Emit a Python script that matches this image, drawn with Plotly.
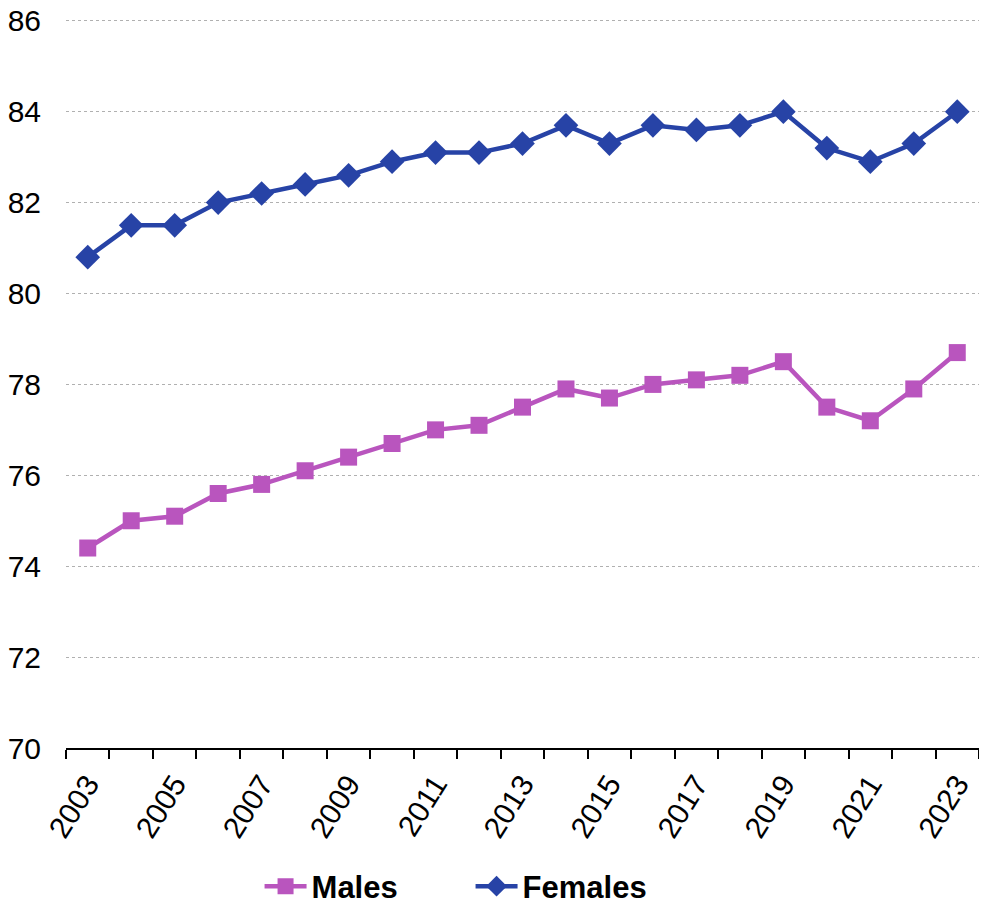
import plotly.graph_objects as go

years = list(range(2003, 2024))
males = [74.4, 75.0, 75.1, 75.6, 75.8, 76.1, 76.4, 76.7, 77.0, 77.1, 77.5,
         77.9, 77.7, 78.0, 78.1, 78.2, 78.5, 77.5, 77.2, 77.9, 78.7]
females = [80.8, 81.5, 81.5, 82.0, 82.2, 82.4, 82.6, 82.9, 83.1, 83.1, 83.3,
           83.7, 83.3, 83.7, 83.6, 83.7, 84.0, 83.2, 82.9, 83.3, 84.0]
tick_years = list(range(2003, 2024, 2))
y_ticks = list(range(70, 87, 2))

male_color = "#B955BE"
female_color = "#2743A6"

fig = go.Figure()
fig.add_trace(go.Scatter(x=years, y=males, name="Males", mode="lines+markers",
                         line=dict(color=male_color, width=4.5),
                         marker=dict(symbol="square", size=17, color=male_color)))
fig.add_trace(go.Scatter(x=years, y=females, name="Females", mode="lines+markers",
                         line=dict(color=female_color, width=4.5),
                         marker=dict(symbol="diamond", size=19, color=female_color)))

FONT = "Liberation Sans, Arial, sans-serif"
fig.update_layout(
    width=971, height=899,
    margin=dict(l=58, r=0, t=11, b=159, autoexpand=False),
    paper_bgcolor="white", plot_bgcolor="white",
    font=dict(family=FONT, color="black", size=30),
    legend=dict(orientation="h", x=0.212, xanchor="left", y=-0.19, yanchor="middle",
                font=dict(size=31, family=FONT, weight="bold"),
                itemwidth=42, entrywidth=154, traceorder="normal"),
    xaxis=dict(range=[2002.5, 2023.5], tickvals=tick_years, ticktext=[str(y) for y in tick_years],
               tickangle=-58, ticks="", showgrid=False, showline=True, linecolor="black",
               linewidth=1.5, zeroline=False, tickfont=dict(size=30), automargin=False,
               ticklabelstandoff=5, ticklabeloverflow="allow",
               minor=dict(tick0=2002.5, dtick=1, ticks="outside", ticklen=9,
                          tickcolor="black", tickwidth=1.5, showgrid=False)),
    yaxis=dict(range=[70, 86.04], tickvals=y_ticks, showgrid=True, gridcolor="#B0B0B0",
               griddash="dot", gridwidth=1, showline=False, zeroline=False, ticks="",
               tickfont=dict(size=30), ticklabelstandoff=24, automargin=False,
               ticklabeloverflow="allow"),
)
fig.write_html("out.html")
